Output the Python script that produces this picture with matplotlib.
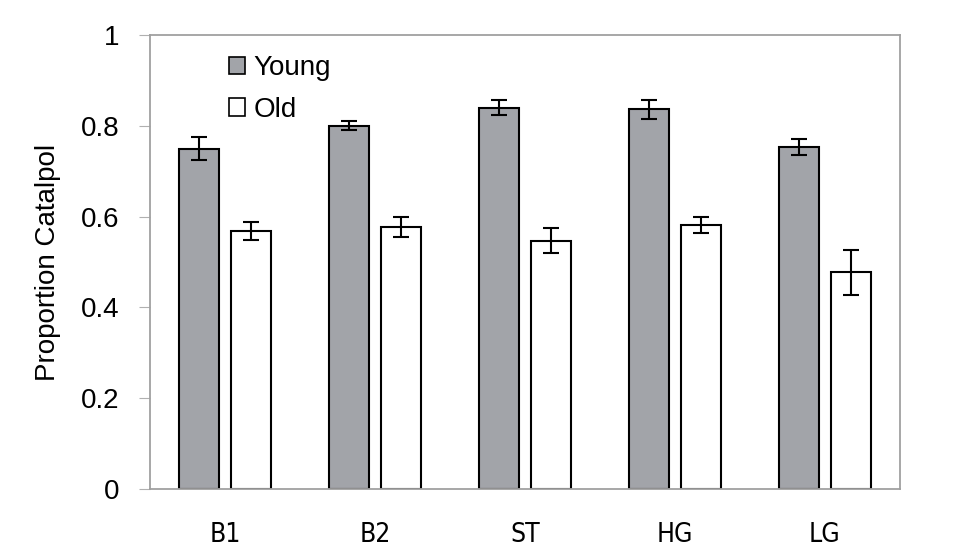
import numpy as np
import matplotlib
matplotlib.use('Agg')
import matplotlib.pyplot as plt
from matplotlib.patches import Patch

sites = ['B1', 'B2', 'ST', 'HG', 'LG']
young = [0.750, 0.800, 0.840, 0.836, 0.753]
young_err = [0.026, 0.010, 0.017, 0.020, 0.017]
old = [0.568, 0.578, 0.547, 0.582, 0.477]
old_err = [0.020, 0.022, 0.027, 0.018, 0.049]

x = np.arange(len(sites))
w = 0.265
off = 0.175

plt.rcParams['font.family'] = ['Liberation Sans', 'DejaVu Sans']

fig = plt.figure(figsize=(9.54, 5.6), dpi=100)
ax = fig.add_axes([150/954, 71/560, 750/954, 454/560])

ekw = dict(elinewidth=1.5, capthick=1.5, capsize=5.5, ecolor='black')
ax.bar(x - off, young, w, yerr=young_err, color='#a2a4a9', edgecolor='black',
       linewidth=1.5, error_kw=ekw, label='Young')
ax.bar(x + off, old, w, yerr=old_err, color='white', edgecolor='black',
       linewidth=1.5, error_kw=ekw, label='Old')

ax.set_xlim(-0.5, 4.5)
ax.set_ylim(0, 1)
ax.set_yticks([0, 0.2, 0.4, 0.6, 0.8, 1.0])
ax.set_yticklabels(['0', '0.2', '0.4', '0.6', '0.8', '1'], fontsize=20)
ax.set_xticks(x)
ax.set_xticklabels(sites, fontsize=19, family='DejaVu Sans', stretch='condensed')
ax.tick_params(axis='x', length=0, pad=24)
ax.tick_params(axis='y', length=8, color='#b0b0b0', width=0.8, pad=14)
ax.set_ylabel('Proportion Catalpol', fontsize=20, labelpad=14)

for s in ax.spines.values():
    s.set_color('#a0a0a0')
    s.set_linewidth(1.3)

handles = [Patch(facecolor='#a2a4a9', edgecolor='black', linewidth=1.2),
           Patch(facecolor='white', edgecolor='black', linewidth=1.2)]
ax.legend(handles, ['Young', 'Old'], loc='upper left', bbox_to_anchor=(0.105, 0.955),
          frameon=False, fontsize=20, handlelength=0.6, handleheight=0.6,
          handletextpad=0.3, labelspacing=0.55, borderpad=0, borderaxespad=0)

fig.savefig('out.png', dpi=100)
